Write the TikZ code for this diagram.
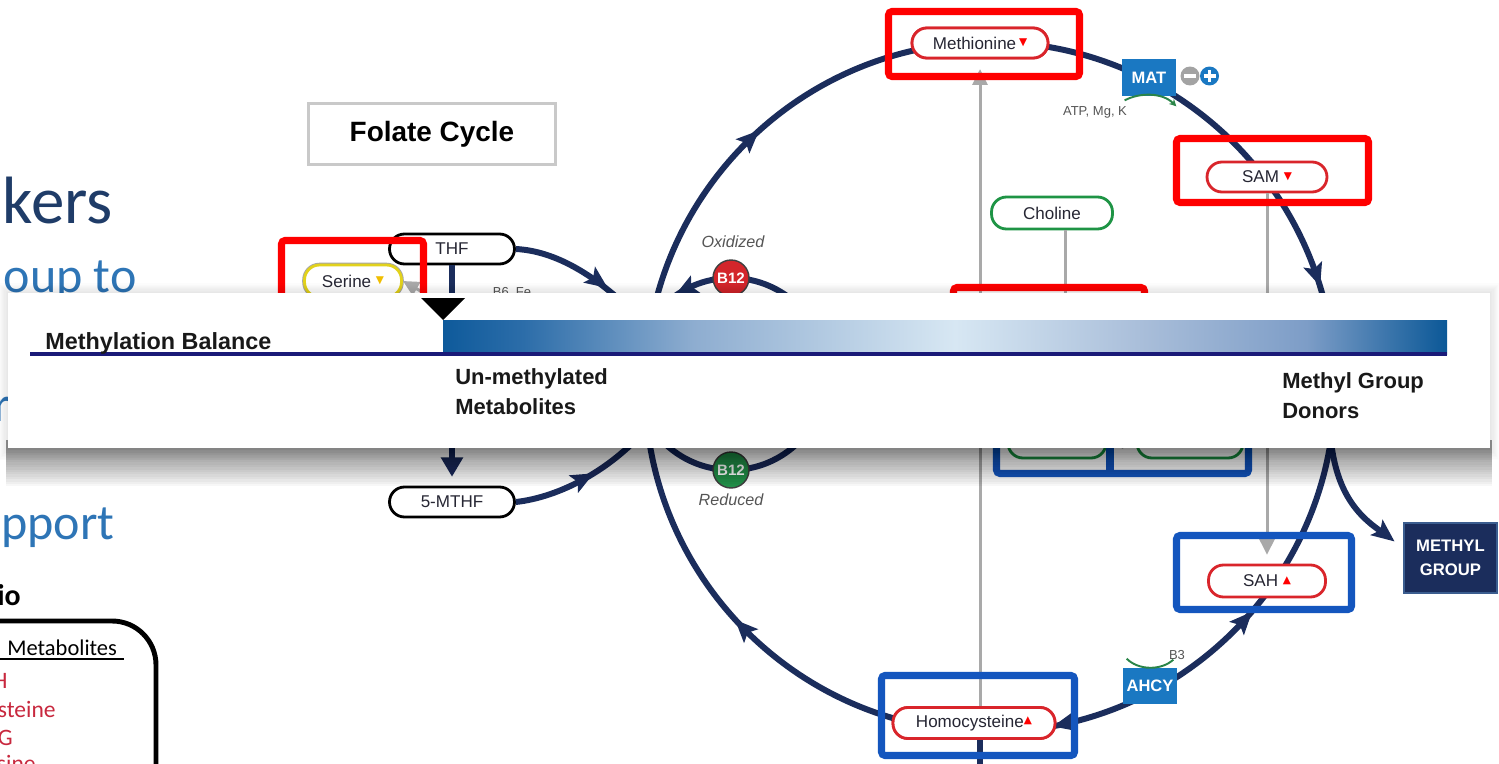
\documentclass[tikz,border=0pt]{standalone}
\usepackage{fontspec}
\setmainfont{Liberation Sans}
\newfontfamily\calibri{Carlito}
\newfontfamily\dejavu{DejaVu Sans}
\usetikzlibrary{arrows.meta,calc}

\definecolor{navy}{HTML}{1B2D5C}
\definecolor{hired}{HTML}{FF0000}
\definecolor{hiblue}{HTML}{1456BE}
\definecolor{pillred}{HTML}{D9252B}
\definecolor{pillgreen}{HTML}{1E9445}
\definecolor{pillyellow}{HTML}{E2D21C}
\definecolor{triyellow}{HTML}{F0BE00}
\definecolor{enzblue}{HTML}{1A78C2}
\definecolor{grayline}{HTML}{A9A9A9}
\definecolor{boxgray}{HTML}{C9C9C9}
\definecolor{labelc}{HTML}{262633}
\definecolor{labgray}{HTML}{555555}
\definecolor{cofgreen}{HTML}{2A8548}
\definecolor{b12red}{HTML}{D3262B}
\definecolor{b12green}{HTML}{23914A}
\definecolor{minusgray}{HTML}{A3A3A3}
\definecolor{slidenavy}{HTML}{1F3C68}
\definecolor{slideblue}{HTML}{2E75B6}
\definecolor{slidered}{HTML}{C8283E}
\definecolor{barline}{HTML}{1A1A78}
\definecolor{mgborder}{HTML}{3B5D8F}
\definecolor{gA}{HTML}{0E5A9B}
\definecolor{gB}{HTML}{2C6DA9}
\definecolor{gC}{HTML}{8EADD0}
\definecolor{gD}{HTML}{D7E7F3}
\definecolor{gE}{HTML}{A8BDD9}
\definecolor{gF}{HTML}{7D9DC7}
\definecolor{gG}{HTML}{0B5897}

% balance bar: the path box spans 25bp..75bp of the shading
\pgfdeclarehorizontalshading{balance}{100bp}{color(0bp)=(gA); color(25bp)=(gA);
  color(29bp)=(gB); color(37.5bp)=(gC); color(50.5bp)=(gD); color(60bp)=(gE);
  color(68bp)=(gF); color(75bp)=(gG); color(100bp)=(gG)}

\newcommand\fsz[2]{\fontsize{#1}{#2}\selectfont}
\newcommand\trdown[1]{\raisebox{2.2pt}{\dejavu\fontsize{6}{6}\selectfont\color{#1}▼}}
\newcommand\trup[1]{\raisebox{2.2pt}{\dejavu\fontsize{6}{6}\selectfont\color{#1}▲}}
% navy arrowhead centred at (#1,#2), pointing at screen angle #3 (clockwise, y down)
\newcommand\nhead[3]{\fill[navy, shift={({#1},{#2})}, rotate={-1*(#3)}]
  (12,0) -- (-11,-10) -- (-6,0) -- (-11,10) -- cycle;}
% arrowhead on the methionine cycle at angle #1
\newcommand\chead[2]{\nhead{990+345*cos(#1)}{387+345*sin(#1)}{#2}}

\begin{document}
\begin{tikzpicture}[x=0.02cm, y=-0.02cm,
  navyline/.style={draw=navy, line width=3.4pt},
  grayarrow/.style={draw=grayline, line width=1.7pt, -{Triangle[length=9pt,width=8.5pt]}},
  pill/.style={draw, line width=1.6pt, fill=white, rounded corners=8.5pt,
    minimum height=0.6cm, inner sep=0pt, font=\fsz{9.7}{11}, text=labelc},
  enz/.style={fill=enzblue, text=white, font=\bfseries\fsz{9.4}{11}, inner sep=0pt},
  b12/.style={circle, draw=black!75, line width=0.8pt, minimum size=0.72cm,
    inner sep=0pt, text=white, font=\bfseries\fsz{8.6}{10}},
  hibox/.style={line width=4pt, rounded corners=2pt},
  small/.style={font=\fsz{7.4}{9}, text=labgray, inner sep=0pt},
  slide/.style={inner sep=0pt, font=\calibri\fsz{28.5}{30}, text=slideblue},
  redtxt/.style={anchor=base east, inner sep=0pt, font=\calibri\fsz{13.4}{15}, text=slidered},
  bantxt/.style={anchor=base west, inner sep=0pt, font=\bfseries\fsz{12.5}{15}, text=black!90}
]
\fill[white] (0,0) rectangle (1499,764);
\useasboundingbox (0,0) rectangle (1499,764);
\clip (0,0) rectangle (1499,764);

% ---------- slide text on the left ----------
\node[slide, anchor=base east, font=\calibri\fsz{38.1}{40}, text=slidenavy] (kers) at (113,223) {kers};
\node[slide, anchor=base east] (oupto) at (137,292) {oup to};
\node[slide, anchor=base east] (rfrag) at (11,421) {r};
\node[slide, anchor=base east] (pport) at (115,539) {pport};
\node[anchor=base east, inner sep=0pt, font=\calibri\bfseries\fsz{17}{20}] (io) at (21,605) {io};
\draw[line width=2.8pt, rounded corners=25pt] (-20,621) -- (156,621) -- (156,800);
\node[anchor=base west, inner sep=0pt, font=\calibri\fsz{12.8}{15}] (metab) at (7,655) {Metabolites};
\draw[line width=1.1pt] ($(metab.base west)+(-12,4)$) -- ($(metab.base east)+(7,4)$);
\node[redtxt] (rH) at (8,688) {H};
\node[redtxt] (rsteine) at (56,717) {steine};
\node[redtxt] (rG) at (13,745) {G};
\node[redtxt] (rsine) at (36,771) {sine};

% ---------- folate cycle ----------
\node[draw=boxgray, line width=1.7pt, minimum width=4.94cm, minimum height=1.22cm,
  font=\bfseries\fsz{15.9}{18}] (folate) at (432,134) {Folate Cycle};

% ---------- methionine cycle and B12 loop ----------
\draw[navyline] (990,387) circle[radius=345];
\draw[navyline] (731,374) circle[radius=96];

\coordinate (thfdown) at (452,340);
\coordinate (mthfin) at (452,420);
\coordinate (hcyout) at (980,800);
\coordinate (sergoal) at (447,306);
\coordinate (betop) at (1065,330);
\coordinate (mgfork) at (1331,442);
\coordinate (mgtip) at (1385,534);
\coordinate (ftopend) at (650,330);
\coordinate (fbotend) at (645,430);

\node[pill, draw=pillred, minimum width=2.72cm] (met) at (980,43) {Methionine\,\trdown{red}};
\node[pill, draw=pillred, minimum width=2.4cm] (sam) at (1267,177) {SAM \trdown{red}};
\node[pill, draw=pillred, minimum width=2.34cm, minimum height=0.64cm] (sah) at (1267,581) {SAH \trup{red}};
\node[pill, draw=pillred, minimum width=3.24cm, minimum height=0.62cm] (hcy) at (974,723) {Homocysteine\trup{red}};
\node[pill, draw=pillgreen, minimum width=2.42cm, minimum height=0.64cm] (chol) at (1052,213) {Choline};
\node[pill, draw=pillgreen, minimum width=1.96cm, minimum height=0.68cm] (dmg) at (1057,441) {DMG};
\node[pill, draw=pillgreen, minimum width=2.12cm, minimum height=0.68cm] (sarc) at (1190,441) {Sarcosine};
\node[pill, draw=black, minimum width=2.5cm] (thf) at (452,249) {THF};
\node[pill, draw=black, minimum width=2.5cm] (mthf) at (452,502) {5-MTHF};
\node[pill, draw=pillyellow, preaction={draw=black!35, line width=2.6pt},
  minimum width=1.94cm, minimum height=0.64cm] (ser) at (353,281) {Serine \trdown{triyellow}};

% folate arcs
\draw[navyline] (thf.east) .. controls (555,251) and (600,275) .. (ftopend);
\draw[navyline] (mthf.east) .. controls (560,497) and (610,470) .. (fbotend);
\nhead{598}{281}{36}
\nhead{583}{479}{-28}
\draw[navyline] (thf.south) -- (thfdown);
\draw[navyline, -{Triangle[length=11pt,width=12pt]}, shorten >=5pt] (mthfin) -- (mthf.north);
\draw[grayarrow] (sergoal) -- (ser.east);
\node[small] (b6) at (512,293) {B6, Fe};

% cycle arrowheads
\chead{-134}{-44}
\chead{-19}{71}
\chead{42.6}{-47.4}
\chead{77.5}{167.5}
\chead{135.6}{225.6}
\nhead{731+96*cos(-118)}{374+96*sin(-118)}{152}

% branch to the methyl group
\draw[navyline] (mgfork) .. controls (1337,490) and (1355,515) .. (mgtip);
\nhead{1385}{534}{38}
\node[fill=navy, draw=mgborder, line width=0.6pt, minimum width=1.86cm, minimum height=1.4cm,
  text=white, font=\bfseries\fsz{9.5}{14}, align=center, inner sep=0pt] (mg) at (1450.5,558) {METHYL\\GROUP};

% gray transfers
\draw[grayarrow, shorten >=5.5pt] (hcy.north -| met.south) -- (met.south);
\draw[grayarrow, shorten >=5pt] (sam.south) -- (sah.north);
\draw[draw=grayline, line width=1.7pt] (chol.south -| betop) -- (betop);
\draw[grayarrow] (sarc.west) -- (dmg.east);
\draw[navyline] (hcy.south -| met.south) -- (hcyout);
% redraw node outlines over the gray/navy lines
\node[pill, draw=pillred, minimum width=2.72cm] at (met) {Methionine\,\trdown{red}};
\node[pill, draw=pillred, minimum width=3.24cm, minimum height=0.62cm] at (hcy) {Homocysteine\trup{red}};

% enzymes
\node[enz, minimum width=1.08cm, minimum height=0.74cm] (mat) at (1149,77.5) {MAT};
\node[circle, fill=minusgray, minimum size=0.38cm, inner sep=0pt] (minus) at (1190,76) {};
\fill[white] ($(minus.center)+(-6,-1.7)$) rectangle ($(minus.center)+(6,1.7)$);
\node[circle, fill=enzblue, minimum size=0.38cm, inner sep=0pt] (plus) at (1209.5,76) {};
\fill[white] ($(plus.center)+(-6,-1.7)$) rectangle ($(plus.center)+(6,1.7)$);
\fill[white] ($(plus.center)+(-1.7,-6)$) rectangle ($(plus.center)+(1.7,6)$);
\draw[cofgreen, line width=1.1pt, -{Stealth[length=4pt,width=4pt]}]
  ($(mat.south west)+(3,4)$) .. controls ($(mat.south west)+(18,-4)$) and ($(mat.south east)+(-14,-4)$) .. ($(mat.south east)+(0,10)$);
\node[small] (atp) at (1095,112) {ATP, Mg, K};

\node[enz, minimum width=1.08cm, minimum height=0.72cm] (ahcy) at (1150,686) {AHCY};
\draw[cofgreen, line width=1.1pt]
  ($(ahcy.north west)+(4,-9)$) .. controls ($(ahcy.north west)+(16,3)$) and ($(ahcy.north east)+(-16,3)$) .. ($(ahcy.north east)+(-4,-8)$);
\node[small] (b3) at (1177,655) {B3};

% vitamin B12 states
\node[b12, fill=b12red] (b12ox) at (731,278) {B12};
\node[b12, fill=b12green] (b12red) at (731,470) {B12};
\node[font=\itshape\fsz{9.2}{11}, text=labgray, inner sep=0pt] (oxlab) at (733,242) {Oxidized};
\node[font=\itshape\fsz{9.2}{11}, text=labgray, inner sep=0pt] (redlab) at (731,500) {Reduced};

% highlight frames
\draw[hibox, hired] (888.5,11.5) rectangle (1079.5,76.5);
\draw[hibox, hired] (1176.5,138.5) rectangle (1368.5,202.5);
\draw[hibox, hired] (281.5,240.5) rectangle (423.5,330);
\draw[hibox, hired] (953.5,287.5) rectangle (1144.5,400);
\draw[hibox, hiblue] (1176.5,535.5) rectangle (1351.5,609.5);
\draw[hibox, hiblue] (881.5,675.5) rectangle (1074.5,755.5);
\draw[hibox, hiblue] (996.5,400) rectangle (1248.5,473.5);
\draw[hiblue, line width=4pt] (1110,400) -- (1110,473.5);

% ---------- methylation balance banner ----------
\foreach \k in {1,...,16}
  \fill[black, opacity=0.03] (6,440) rectangle (1492,448+\k*2.4);
\foreach \k in {1,...,8}
  \fill[black, opacity=0.012] (8-\k*1.2,293-\k*1.2) rectangle (1490+\k*1.2,448+\k*1.5);
\fill[white] (8,293) rectangle (1490,448);
\shade[shading=balance] (443,320) rectangle (1447,354);
\draw[barline, line width=2.3pt] (30,354) -- (1447,354);
\fill[black] (421,298) -- (465,298) -- (443,320) -- cycle;
\node[bantxt, font=\bfseries\fsz{13.3}{16}] (mbal) at (45,349) {Methylation Balance};
\node[bantxt] (unm1) at (455,384) {Un-methylated};
\node[bantxt] (unm2) at (455,414) {Metabolites};
\node[bantxt] (don1) at (1282,388) {Methyl Group};
\node[bantxt] (don2) at (1282,418) {Donors};
\end{tikzpicture}
\end{document}
